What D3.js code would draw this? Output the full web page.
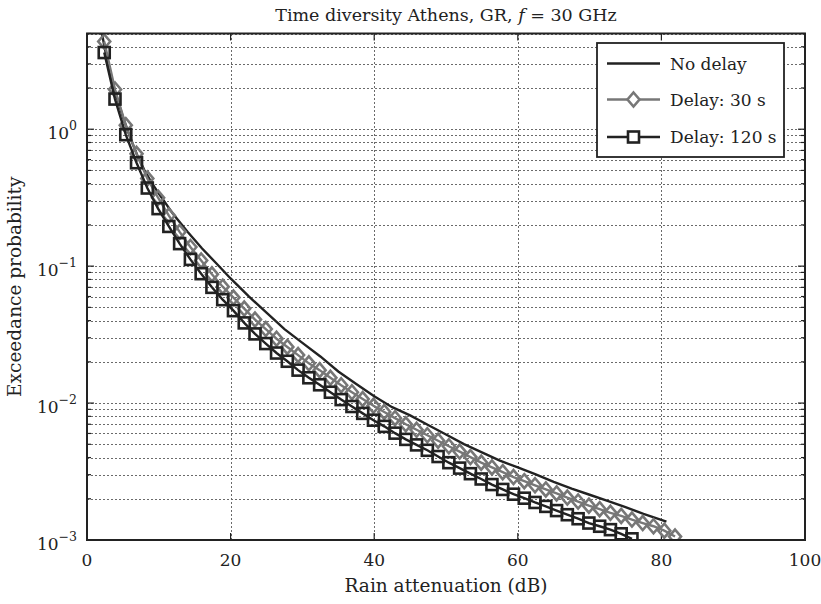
<!DOCTYPE html>
<html>
<head>
<meta charset="utf-8">
<script src="https://cdn.jsdelivr.net/npm/d3@7"></script>
<style>
  body { margin: 0; background: #fff; }
  text { font-family: "DejaVu Serif", "Liberation Serif", serif; fill: #222; }
</style>
</head>
<body>
<script>
// chart data
var xTicks = [0, 20, 40, 60, 80, 100];
var decades = [-3, -2, -1, 0];

// No delay (no markers)
var noDelayAtt = [2.0, 3.0, 4.0, 5.0, 6.0, 7.0, 8.0, 9.0, 10.0, 12.0, 14.0, 16.0, 18.0, 20.0,
  22.5, 25.0, 27.5, 30.0, 32.5, 35.0, 37.5, 40.0, 42.5, 45.0, 47.5, 50.0, 52.5, 55.0, 57.5,
  60.0, 62.5, 65.0, 67.5, 70.0, 72.5, 75.0, 77.5, 80.7];
var noDelayProb = [5.25, 2.82, 1.82, 1.23, 0.871, 0.646, 0.501, 0.407, 0.339, 0.240, 0.178,
  0.135, 0.105, 0.0813, 0.0603, 0.0457, 0.0347, 0.0275, 0.0219, 0.0170, 0.0138, 0.0112,
  0.00933, 0.00813, 0.00692, 0.00589, 0.00501, 0.00437, 0.00380, 0.00339, 0.00302, 0.00266,
  0.00237, 0.00214, 0.00193, 0.00174, 0.00155, 0.00136];

// Delay 30 s (diamonds)
var delay30Att = [2.4, 3.9, 5.4, 6.9, 8.4, 9.9, 11.4, 12.9, 14.4, 15.9, 17.4, 18.9, 20.4, 21.9,
  23.4, 24.9, 26.4, 27.9, 29.4, 30.9, 32.4, 33.9, 35.4, 36.9, 38.4, 39.9, 41.4, 42.9, 44.4,
  45.9, 47.4, 48.9, 50.4, 51.9, 53.4, 54.9, 56.4, 57.9, 59.4, 60.9, 62.4, 63.9, 65.4, 66.9,
  68.4, 69.9, 71.4, 72.9, 74.4, 75.9, 77.4, 78.9, 80.4, 81.9];
var delay30Prob = [4.37, 1.95, 1.07, 0.661, 0.437, 0.316, 0.234, 0.178, 0.138, 0.110, 0.0871,
  0.0708, 0.0589, 0.0490, 0.0407, 0.0347, 0.0295, 0.0257, 0.0224, 0.0195, 0.0174, 0.0153,
  0.0135, 0.0120, 0.0107, 0.00955, 0.00861, 0.00776, 0.00700, 0.00638, 0.00582, 0.00531,
  0.00484, 0.00442, 0.00403, 0.00367, 0.00339, 0.00313, 0.00288, 0.00269, 0.00251, 0.00234,
  0.00219, 0.00204, 0.00191, 0.00178, 0.00168, 0.00158, 0.00150, 0.00141, 0.00133, 0.00126,
  0.00117, 0.00106];

// Delay 120 s (squares)
var delay120Att = [2.4, 3.9, 5.4, 6.9, 8.4, 9.9, 11.4, 12.9, 14.4, 15.9, 17.4, 18.9, 20.4, 21.9,
  23.4, 24.9, 26.4, 27.9, 29.4, 30.9, 32.4, 33.9, 35.4, 36.9, 38.4, 39.9, 41.4, 42.9, 44.4,
  45.9, 47.4, 48.9, 50.4, 51.9, 53.4, 54.9, 56.4, 57.9, 59.4, 60.9, 62.4, 63.9, 65.4, 66.9,
  68.4, 69.9, 71.4, 72.9, 74.4, 75.9];
var delay120Prob = [3.63, 1.66, 0.912, 0.569, 0.372, 0.263, 0.195, 0.146, 0.112, 0.0881, 0.0700,
  0.0569, 0.0473, 0.0385, 0.0320, 0.0272, 0.0232, 0.0202, 0.0174, 0.0153, 0.0136, 0.0120,
  0.0106, 0.00944, 0.00841, 0.00750, 0.00676, 0.00603, 0.00543, 0.00495, 0.00452, 0.00407,
  0.00367, 0.00335, 0.00305, 0.00279, 0.00254, 0.00234, 0.00216, 0.00202, 0.00188, 0.00176,
  0.00164, 0.00153, 0.00143, 0.00133, 0.00126, 0.00119, 0.00111, 0.00102];

var seriesNames = ["No delay", "Delay: 30 s", "Delay: 120 s"];

// set up dimensions
var width = 821,
    height = 604,
    margin = {top: 33.5, right: 16, bottom: 64, left: 87};

var svg = d3.select("body").append("svg")
    .attr("width", width)
    .attr("height", height);

var x = d3.scaleLinear().domain([0, 100]).range([margin.left, width - margin.right]);
var y = d3.scaleLog().domain([1e-3, 5]).range([height - margin.bottom, margin.top]);

var x0 = x.range()[0], x1 = x.range()[1], y0 = y.range()[0], y1 = y.range()[1];

// minor/major log values
var yGrid = [];
decades.forEach(function(d) {
  for (var m = 1; m <= 9; m++) {
    var v = m * Math.pow(10, d);
    if (v <= 5) yGrid.push(v);
  }
});

// grid lines
var grid = svg.append("g").attr("stroke", "#6a6a6a").attr("stroke-width", 1)
    .attr("stroke-dasharray", "2,2");
grid.selectAll(".gy").data(yGrid).enter().append("line")
    .attr("x1", x0).attr("x2", x1)
    .attr("y1", function(d) { return Math.round(y(d)) + 0.5; })
    .attr("y2", function(d) { return Math.round(y(d)) + 0.5; });
grid.selectAll(".gx").data(xTicks.slice(1, -1)).enter().append("line")
    .attr("y1", y0).attr("y2", y1)
    .attr("x1", function(d) { return Math.round(x(d)) + 0.5; })
    .attr("x2", function(d) { return Math.round(x(d)) + 0.5; });

// ticks on all four sides (inside)
var ticks = svg.append("g").attr("stroke", "#222").attr("stroke-width", 1.2);
yGrid.forEach(function(v) {
  var len = Math.abs(Math.log10(v) - Math.round(Math.log10(v))) < 1e-9 ? 7 : 4;
  var yy = y(v);
  ticks.append("line").attr("x1", x0).attr("x2", x0 + len).attr("y1", yy).attr("y2", yy);
  ticks.append("line").attr("x1", x1).attr("x2", x1 - len).attr("y1", yy).attr("y2", yy);
});
xTicks.forEach(function(v) {
  ticks.append("line").attr("x1", x(v)).attr("x2", x(v)).attr("y1", y0).attr("y2", y0 - 7);
  ticks.append("line").attr("x1", x(v)).attr("x2", x(v)).attr("y1", y1).attr("y2", y1 + 7);
});

// clip to plot area
svg.append("clipPath").attr("id", "clip").append("rect")
    .attr("x", x0).attr("y", y1).attr("width", x1 - x0).attr("height", y0 - y1);

var plot = svg.append("g").attr("clip-path", "url(#clip)");

function pairs(a, b) { return a.map(function(v, i) { return [v, b[i]]; }); }

var line = d3.line()
    .x(function(d) { return x(d[0]); })
    .y(function(d) { return y(d[1]); });

var dark = "#222", grey = "#777";

// No delay
plot.append("path")
    .datum(pairs(noDelayAtt, noDelayProb))
    .attr("d", line)
    .attr("fill", "none").attr("stroke", dark).attr("stroke-width", 2.4);

// Delay 30 s
var d30 = pairs(delay30Att, delay30Prob);
plot.append("path").datum(d30).attr("d", line)
    .attr("fill", "none").attr("stroke", grey).attr("stroke-width", 2.4);
var diamond = "M0,-7L6,0L0,7L-6,0Z";
plot.selectAll(".dia").data(d30).enter().append("path")
    .attr("d", diamond)
    .attr("transform", function(d) { return "translate(" + x(d[0]) + "," + y(d[1]) + ")"; })
    .attr("fill", "none").attr("stroke", grey).attr("stroke-width", 2.6);

// Delay 120 s
var d120 = pairs(delay120Att, delay120Prob);
plot.append("path").datum(d120).attr("d", line)
    .attr("fill", "none").attr("stroke", dark).attr("stroke-width", 2.4);
plot.selectAll(".sq").data(d120).enter().append("rect")
    .attr("x", function(d) { return x(d[0]) - 5.5; })
    .attr("y", function(d) { return y(d[1]) - 5.5; })
    .attr("width", 11).attr("height", 11)
    .attr("fill", "none").attr("stroke", dark).attr("stroke-width", 2.6);

// frame
svg.append("rect")
    .attr("x", x0).attr("y", y1).attr("width", x1 - x0).attr("height", y0 - y1)
    .attr("fill", "none").attr("stroke", dark).attr("stroke-width", 2);

// x tick labels
svg.selectAll(".xl").data(xTicks).enter().append("text")
    .attr("x", function(d) { return x(d); })
    .attr("y", y0 + 26)
    .attr("text-anchor", "middle")
    .attr("font-size", 17)
    .text(function(d) { return d; });

// y tick labels
decades.forEach(function(d) {
  var t = svg.append("text")
      .attr("x", x0 - 10)
      .attr("y", y(Math.pow(10, d)) + 10)
      .attr("text-anchor", "end")
      .attr("font-size", 17);
  t.append("tspan").text("10");
  t.append("tspan").attr("dy", -9).attr("font-size", 12.5)
      .text(d < 0 ? "\u2212" + (-d) : String(d));
});

// title
var title = svg.append("text")
    .attr("x", (x0 + x1) / 2).attr("y", 21)
    .attr("text-anchor", "middle")
    .attr("font-size", 17.5);
title.append("tspan").text("Time diversity Athens, GR, ");
title.append("tspan").attr("font-style", "italic").text("f");
title.append("tspan").text(" = 30 GHz");

// axis labels
svg.append("text")
    .attr("x", (x0 + x1) / 2).attr("y", 592)
    .attr("text-anchor", "middle")
    .attr("font-size", 18.5)
    .text("Rain attenuation (dB)");

svg.append("text")
    .attr("transform", "translate(21," + ((y0 + y1) / 2) + ") rotate(-90)")
    .attr("text-anchor", "middle")
    .attr("font-size", 18.5)
    .text("Exceedance probability");

// legend
var lg = svg.append("g").attr("transform", "translate(597,43)");
lg.append("rect").attr("width", 187).attr("height", 114)
    .attr("fill", "#fff").attr("stroke", dark).attr("stroke-width", 1.8);
var rowY = [20.5, 56.5, 94];
var rowColor = [dark, grey, dark];
seriesNames.forEach(function(name, i) {
  lg.append("line").attr("x1", 10).attr("x2", 63)
      .attr("y1", rowY[i]).attr("y2", rowY[i])
      .attr("stroke", rowColor[i]).attr("stroke-width", 2.4);
  if (i === 1) {
    lg.append("path").attr("d", diamond)
        .attr("transform", "translate(36.5," + rowY[i] + ")")
        .attr("fill", "#fff").attr("stroke", grey).attr("stroke-width", 2.6);
  }
  if (i === 2) {
    lg.append("rect").attr("x", 31).attr("y", rowY[i] - 5.5)
        .attr("width", 11).attr("height", 11)
        .attr("fill", "#fff").attr("stroke", dark).attr("stroke-width", 2.6);
  }
  lg.append("text").attr("x", 73).attr("y", rowY[i] + 6)
      .attr("font-size", 17).text(name);
});
</script>
</body>
</html>
